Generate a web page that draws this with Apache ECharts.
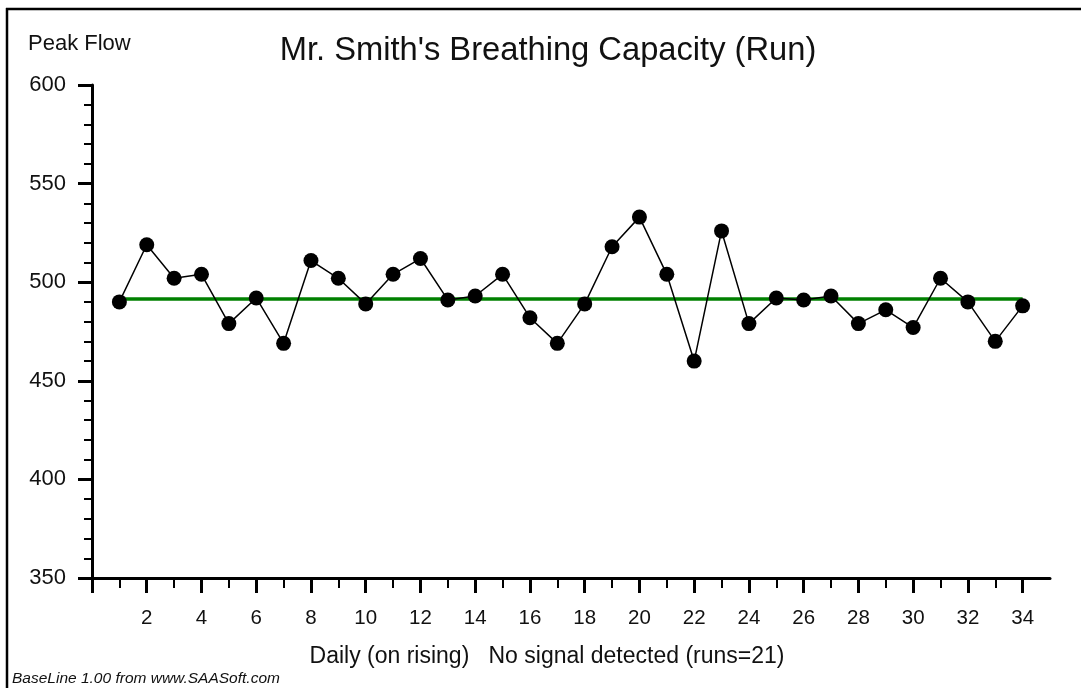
<!DOCTYPE html>
<html><head><meta charset="utf-8">
<script src="https://cdn.jsdelivr.net/npm/echarts@6/dist/echarts.min.js"></script>
<style>html,body{margin:0;padding:0;background:#fff}#c{width:1081px;height:688px}</style>
</head><body><div id="c"></div>
<script>
const days = [1,2,3,4,5,6,7,8,9,10,11,12,13,14,15,16,17,18,19,20,21,22,23,24,25,26,27,28,29,30,31,32,33,34];
const peakFlow = [490,519,502,504,479,492,469,511,502,489,504,512,491,493,504,482,469,489,518,533,504,460,526,479,492,491,493,479,486,477,502,490,470,488];
const medianValue = 491.5;
const xMajorTicks = [0,2,4,6,8,10,12,14,16,18,20,22,24,26,28,30,32,34];
const xMinorTicks = [1,3,5,7,9,11,13,15,17,19,21,23,25,27,29,31,33];
const xLabels = [2,4,6,8,10,12,14,16,18,20,22,24,26,28,30,32,34];
const titleText = "Mr. Smith's Breathing Capacity (Run)";
const yName = "Peak Flow";
const xName = "Daily (on rising)   No signal detected (runs=21)";
const footer = "BaseLine 1.00 from www.SAASoft.com";

const FONT = "'Liberation Sans', Arial, sans-serif";
const chart = echarts.init(document.getElementById('c'), null, {renderer:'canvas'});
const seriesData = days.map((d,i)=>[d, peakFlow[i]]);
const medianData = [[days[0], medianValue],[days[days.length-1], medianValue]];

chart.setOption({
  animation:false,
  backgroundColor:'#fff',
  grid:{left:92, right:31, top:85, bottom:110},
  xAxis:[{
    type:'value', min:0, max:35,
    axisLine:{show:true, onZero:false, lineStyle:{color:'#000', width:3}},
    axisTick:{show:true, customValues:xMajorTicks, length:15, lineStyle:{color:'#000', width:3}},
    axisLabel:{show:true, customValues:xLabels, margin:30, fontSize:20.5, color:'#111', fontFamily:FONT},
    splitLine:{show:false}
  },{
    type:'value', min:0, max:35, position:'bottom', offset:0,
    axisLine:{show:false},
    axisTick:{show:true, customValues:xMinorTicks, length:10, lineStyle:{color:'#000', width:2}},
    axisLabel:{show:false},
    splitLine:{show:false}
  }],
  yAxis:{
    type:'value', min:350, max:600, interval:50,
    axisLine:{show:true, lineStyle:{color:'#000', width:3}},
    axisTick:{show:true, length:14, lineStyle:{color:'#000', width:3}},
    minorTick:{show:true, splitNumber:5, length:8, lineStyle:{color:'#000', width:2}},
    axisLabel:{margin:26, fontSize:22, color:'#111', fontFamily:FONT},
    splitLine:{show:false}, minorSplitLine:{show:false}
  },
  series:[{
    type:'line', data:medianData, symbol:'none', z:1,
    lineStyle:{color:'#008000', width:3.5}
  },{
    type:'line', data:seriesData, symbol:'circle', symbolSize:15, z:3,
    lineStyle:{color:'#000', width:1.5},
    itemStyle:{color:'#000'}
  }],
  graphic:[
    {type:'line', shape:{x1:6, y1:9, x2:1081, y2:9}, style:{stroke:'#000', lineWidth:2.5}},
    {type:'line', shape:{x1:7, y1:8, x2:7, y2:688}, style:{stroke:'#000', lineWidth:2.5}},
    {type:'text', x:548, y:51, style:{text:titleText, font:"32.7px "+FONT, fill:'#111', textAlign:'center', align:'center', textVerticalAlign:'middle', verticalAlign:'middle'}},
    {type:'text', x:28, y:44, style:{text:yName, font:"22px "+FONT, fill:'#111', textAlign:'left', align:'left', textVerticalAlign:'middle', verticalAlign:'middle'}},
    {type:'text', x:547, y:657, style:{text:xName, font:"23px "+FONT, fill:'#111', textAlign:'center', align:'center', textVerticalAlign:'middle', verticalAlign:'middle'}},
    {type:'text', x:12, y:679, style:{text:footer, font:"italic 15.5px "+FONT, fill:'#111', textAlign:'left', align:'left', textVerticalAlign:'middle', verticalAlign:'middle'}}
  ]
});
</script></body></html>
